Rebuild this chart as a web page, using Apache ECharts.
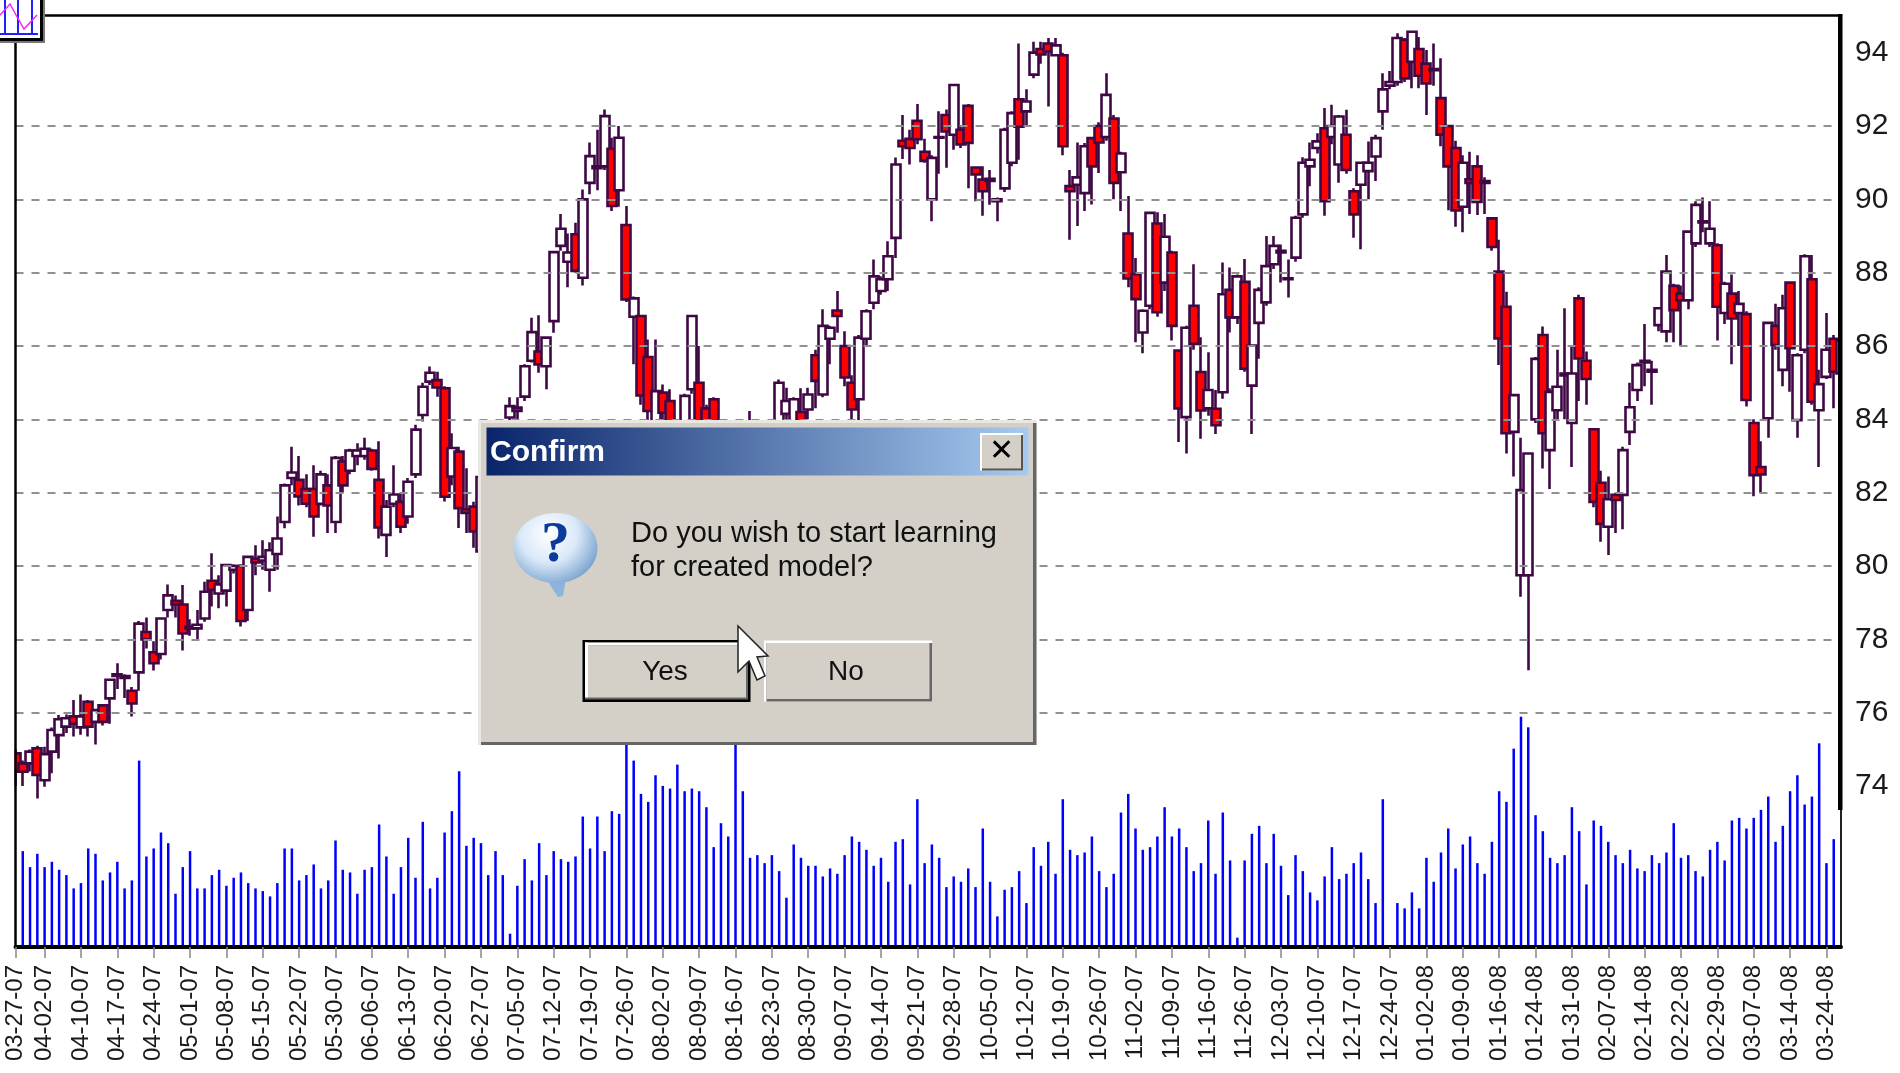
<!DOCTYPE html>
<html><head><meta charset="utf-8"><title>Chart</title>
<style>html,body{margin:0;padding:0;background:#fff}#c{width:1900px;height:1073px}</style>
<script src="https://cdn.jsdelivr.net/npm/echarts@6/dist/echarts.min.js"></script>
</head><body><div id="c"></div>
<script>
const tickLabels = ['03-27-07','04-02-07','04-10-07','04-17-07','04-24-07','05-01-07','05-08-07','05-15-07','05-22-07','05-30-07','06-06-07','06-13-07','06-20-07','06-27-07','07-05-07','07-12-07','07-19-07','07-26-07','08-02-07','08-09-07','08-16-07','08-23-07','08-30-07','09-07-07','09-14-07','09-21-07','09-28-07','10-05-07','10-12-07','10-19-07','10-26-07','11-02-07','11-09-07','11-16-07','11-26-07','12-03-07','12-10-07','12-17-07','12-24-07','01-02-08','01-09-08','01-16-08','01-24-08','01-31-08','02-07-08','02-14-08','02-22-08','02-29-08','03-07-08','03-14-08','03-24-08'];
const priceTicks = [74,76,78,80,82,84,86,88,90,92,94];
const opens = [
74.89,74.62,74.62,75.03,74.16,74.94,75.39,75.62,75.9,75.6,
76.3,75.75,76.2,76.39,77.05,77.0,76.6,77.1,78.2,77.65,
77.6,78.8,79.05,78.95,78.35,78.3,78.57,79.6,79.25,79.33,
79.9,80.0,78.8,80.2,80.15,79.9,80.33,81.2,82.4,82.35,
82.1,82.1,81.7,82.2,81.2,82.85,82.6,83.0,83.0,83.15,
82.35,80.85,81.7,81.75,81.35,82.5,84.12,85.03,85.07,84.85,
82.44,83.12,81.55,81.62,80.4,80.9,81.9,82.7,84.05,84.32,
84.62,85.6,85.85,85.45,86.68,88.73,88.3,89.05,87.86,90.45,
90.9,90.9,91.38,90.25,89.3,86.8,86.82,85.7,83.6,84.73,
84.5,83.9,83.4,84.82,85.0,84.3,84.55,83.5,83.0,82.5,
83.2,83.4,83.8,83.3,83.5,83.3,84.15,83.7,84.2,84.27,
85.75,84.68,86.2,86.97,86.0,85.0,84.55,86.2,87.18,87.5,
87.82,88.95,91.6,91.65,92.14,91.3,90.0,91.7,92.3,91.76,
91.9,92.55,90.87,90.54,90.56,89.95,90.3,91.0,92.73,92.4,
93.4,94.1,94.25,93.93,93.93,90.36,90.4,90.17,91.67,92.0,
91.7,92.2,90.74,89.07,87.96,86.37,87.1,89.34,87.73,88.55,
85.88,84.06,87.1,85.29,84.3,84.29,84.74,87.53,86.78,87.75,
84.92,86.63,87.19,88.23,88.6,87.82,88.41,89.59,90.9,91.4,
91.94,91.7,90.95,91.76,90.22,90.4,90.77,91.17,92.4,93.1,
93.2,94.35,93.75,94.1,93.7,93.55,92.76,92.0,91.4,89.8,
90.55,90.9,90.5,89.48,88.03,87.07,83.66,79.75,79.75,84.0,
86.3,83.16,84.25,85.2,83.9,87.3,85.6,83.73,82.27,81.07,
81.94,81.94,83.66,84.8,85.55,85.35,86.57,86.4,87.64,87.43,
87.25,88.8,89.4,88.8,88.75,86.9,87.43,86.9,86.87,83.9,
82.7,84.03,86.55,85.35,87.73,83.98,85.9,87.82,84.25,85.16,86.2,85.25];
const closes = [
74.39,74.39,74.94,74.3,74.87,75.53,75.82,75.85,75.7,75.9,
75.62,76.07,75.75,76.9,77.0,76.95,76.25,78.43,78.0,77.35,
78.57,79.2,78.95,78.16,78.3,78.4,79.3,79.35,79.5,80.03,
80.0,78.5,80.25,80.1,80.25,80.43,80.75,82.2,82.55,81.9,
81.7,81.35,82.5,81.65,82.95,82.2,83.15,83.15,83.2,82.65,
81.05,81.62,81.95,81.07,82.3,83.72,84.89,85.27,84.87,81.89,
83.22,81.58,81.45,80.94,82.43,81.9,82.8,83.6,84.36,84.23,
85.45,86.38,85.5,86.23,88.56,89.2,88.55,88.05,90.0,91.18,
90.85,92.27,89.82,91.68,87.27,87.3,84.65,84.23,84.77,84.18,
83.9,83.4,84.64,86.82,83.6,83.7,83.5,82.9,82.6,83.3,
83.6,83.9,83.4,83.7,83.9,85.0,84.5,84.55,83.8,84.68,
85.05,86.55,86.5,86.82,85.14,84.27,86.23,86.95,87.9,87.82,
88.45,90.95,91.45,91.4,91.64,91.05,91.13,91.68,91.85,93.12,
91.5,91.54,90.68,90.22,90.5,90.0,91.9,92.35,91.98,92.67,
94.0,93.95,94.03,94.2,91.45,90.22,90.6,91.45,90.9,91.55,
92.85,90.45,91.25,87.84,87.28,86.96,89.63,86.92,88.98,86.55,
84.3,86.5,86.06,84.24,84.8,83.84,87.41,86.78,87.9,85.38,
86.01,87.53,88.18,88.73,88.55,87.85,89.5,91.0,91.08,91.58,
89.95,92.0,92.26,90.8,89.59,91.0,91.0,91.67,93.0,93.2,
94.4,93.3,94.57,93.37,93.16,93.52,91.76,90.9,89.7,91.0,
90.45,89.93,90.45,88.7,86.21,83.62,84.66,82.07,83.07,85.65,
83.62,84.75,84.89,85.25,85.25,85.66,85.1,81.75,81.15,81.82,
81.8,83.16,84.33,85.48,85.6,85.3,87.03,88.03,86.98,87.25,
89.12,89.85,89.37,89.2,87.07,87.7,86.75,87.15,84.53,82.48,
82.5,86.63,86.03,87.03,85.94,85.75,88.45,84.48,84.96,85.9,85.3,86.15];
const lows = [
74.0,74.0,74.4,73.66,73.98,74.35,74.75,75.45,75.35,75.4,
75.35,75.13,75.65,75.7,76.65,76.4,75.9,76.6,77.75,77.15,
77.45,78.6,78.6,77.7,78.1,78.0,78.48,78.9,78.85,78.9,
79.8,78.35,78.5,79.75,79.9,79.3,79.9,81.03,82.2,81.65,
81.6,80.8,81.65,80.9,80.9,82.0,82.5,82.75,82.9,82.6,
80.75,80.25,81.6,80.9,81.15,82.4,83.94,84.94,84.62,81.76,
82.2,81.04,80.9,80.5,80.3,80.6,81.6,82.5,83.9,83.95,
84.5,85.55,85.27,84.82,86.36,88.6,87.6,88.0,87.65,90.14,
90.25,90.8,89.68,89.8,87.2,85.5,84.4,83.8,83.4,83.7,
83.5,83.2,83.2,84.7,83.3,83.3,83.2,82.6,82.3,82.3,
83.0,83.2,83.2,83.1,83.3,83.1,83.7,83.5,83.6,84.0,
84.3,84.6,85.5,86.36,84.9,83.9,83.8,86.0,87.0,87.4,
87.5,88.4,91.1,90.95,91.5,91.0,89.4,90.7,90.86,91.35,
91.4,90.3,89.95,89.55,89.85,89.4,90.2,90.9,91.08,92.0,
93.3,93.7,92.53,93.9,91.2,88.9,89.27,89.68,89.86,90.72,
91.6,90.0,89.68,87.6,86.1,85.8,87.0,86.8,87.5,86.15,
83.38,83.07,85.9,83.47,84.1,83.6,84.56,86.37,86.6,85.3,
83.6,85.65,87.1,88.1,87.73,87.32,88.3,89.5,90.36,91.25,
89.55,91.5,90.45,90.7,88.95,88.64,90.0,90.5,91.9,93.0,
93.1,93.2,93.03,93.03,92.3,93.1,91.45,89.7,89.25,89.1,
89.6,89.57,89.6,88.6,85.48,83.07,82.44,79.16,77.16,83.9,
82.66,82.1,84.0,84.0,82.7,84.5,84.4,81.6,80.66,80.3,
80.9,81.0,83.3,84.5,84.9,84.4,86.4,86.1,86.1,86.0,
87.0,88.7,89.1,88.7,86.15,86.6,85.5,86.0,84.35,81.9,
82.0,83.5,85.9,84.9,84.75,83.5,85.8,84.4,82.7,85.1,84.3,84.9];
const highs = [
75.0,74.7,75.0,75.1,75.07,75.6,75.94,75.95,76.35,76.5,
76.35,76.1,76.2,76.92,77.35,77.05,76.7,78.5,78.6,77.95,
78.6,79.5,79.2,79.48,78.55,78.8,79.57,80.35,79.75,80.05,
80.05,80.05,80.27,80.57,80.7,80.65,81.35,82.25,83.25,83.0,
82.5,82.75,82.6,82.5,83.0,83.0,83.2,83.35,83.5,83.2,
83.4,81.8,82.75,82.0,82.4,83.85,85.0,85.44,85.3,84.9,
83.62,83.25,82.67,81.75,82.45,82.2,83.0,83.8,84.6,84.6,
85.5,86.77,86.84,86.25,88.6,89.6,89.07,89.36,90.27,91.55,
91.9,92.45,91.68,92.0,89.82,87.35,86.85,86.18,86.18,84.95,
84.82,83.95,84.7,86.85,86.0,84.4,84.6,83.7,83.2,83.5,
83.8,84.23,83.95,83.9,83.95,85.09,84.86,84.6,84.85,84.86,
85.9,87.0,86.55,87.5,86.4,85.2,86.3,87.0,88.36,87.9,
88.86,91.14,92.3,91.9,92.6,91.65,91.2,92.4,92.45,93.15,
92.0,92.6,90.9,90.9,90.8,90.05,91.95,92.4,94.25,93.0,
94.3,94.3,94.4,94.4,94.0,90.8,91.55,91.54,91.7,92.1,
93.44,92.3,91.3,90.09,88.4,87.0,89.65,89.65,89.6,88.6,
85.9,86.55,88.23,86.24,85.83,84.8,88.28,88.14,87.95,88.37,
86.05,87.6,89.0,89.0,88.77,88.36,89.55,91.15,91.55,91.8,
92.49,92.58,92.3,92.44,90.3,91.0,91.58,91.76,93.44,93.5,
94.53,94.4,94.6,94.43,94.07,94.25,93.85,92.0,91.6,91.2,
91.3,91.2,90.6,89.5,88.9,87.48,84.7,83.5,83.1,85.7,
86.53,84.85,85.9,87.03,86.0,87.4,85.85,83.75,82.6,82.44,
82.0,83.25,85.0,85.55,86.6,85.6,87.05,88.48,87.7,87.65,
89.15,89.95,90.05,89.95,88.8,87.75,87.95,87.5,86.95,84.0,
83.4,86.65,87.15,87.4,87.75,85.8,88.5,88.48,85.35,86.9,86.3,86.2];
const volumes = [
0,36,30,35,30,32,29,27,22,24,
37,35,25,28,32,22,25,70,34,37,
43,39,20,30,36,22,22,27,29,23,
26,28,24,22,21,19,24,37,37,25,
27,31,22,25,40,29,28,20,29,30,
46,34,20,30,41,26,47,22,26,43,
51,66,38,41,39,27,36,27,5,23,
33,25,39,27,36,33,32,34,49,37,
49,36,51,50,80,70,57.5,54.5,64.5,60.5,
59.5,68.5,58.5,59.5,58.5,52.5,37.5,46.5,41.5,80,
58.5,33.5,34.5,31.5,34.5,28.5,18.5,38.5,33.5,30.5,
30.5,26.5,29.5,27.5,34.5,41.5,39.5,36.5,30.5,33.5,
24.5,39.5,40.5,23.5,55.5,31.5,38.5,33.5,22.5,26.5,
24.5,29.5,22.5,44.5,24.5,11.5,21.5,22.5,28.5,16.5,
37.5,30.5,39.5,27.5,55.5,36.5,34.5,35.5,41.5,28.5,
22.5,27.5,50.5,57.5,44.5,36.5,37.5,41.5,52.5,41.5,
44.5,37.5,28.5,31.5,47.5,27.5,50.5,32.5,3.5,32.5,
42.5,45.5,31.5,42.5,30.5,19.5,34.5,28.5,20.5,17.5,
26.5,37.5,25.5,27.5,31.5,35.5,25.5,16.5,55.5,0,
16.5,14.5,20.5,14.5,33.5,24.5,35.5,44.5,29.5,38.5,
41.5,31.5,27.5,39.5,58.5,54.5,74.5,86.5,82.5,49.5,
43.5,33.5,31.5,34.5,52.5,43.5,23.5,47.5,45.5,39.5,
34.5,31.5,36.5,29.5,28.5,34.5,31.5,35.5,46.5,33.5,
34.5,28.5,26.5,36.5,39.5,32.5,47.5,48.5,44.5,48.5,
51.5,56.5,39.5,45.5,58.5,64.5,53.5,56.5,76.5,31.5,40.5,0];

const categories = opens.map(function (_, i) {
  if (i === 0) return tickLabels[0];
  return (i + 1) % 5 === 0 ? (tickLabels[(i + 1) / 5] || '') : '';
});
const isLabelled = function (i, v) { return v !== ''; };
const candleData = opens.map(function (o, i) { return [o, closes[i], lows[i], highs[i]]; });
const halfTicks = [];
for (let v = 73.5; v <= 95; v += 0.5) if (v % 2 !== 0) halfTicks.push(v);

const FONT = '"Liberation Sans", Arial, sans-serif';
const g = [];
// masks that trim the two edge candles at the frame; they sit under the axes
g.push({ type: 'rect', z: 4, shape: { x: 0, y: 44, width: 14.5, height: 900 }, style: { fill: '#fff' } });
g.push({ type: 'rect', z: 4, shape: { x: 1842, y: 15, width: 14, height: 930 }, style: { fill: '#fff' } });
let zc = 100;
function rect(x, y, w, h, fill) { g.push({ type: 'rect', z: zc++, shape: { x: x, y: y, width: w, height: h }, style: { fill: fill } }); }
function text(t, x, y, size, fill, weight, align, family) {
  g.push({ type: 'text', z: zc++, style: { text: t, x: x, y: y, fontSize: size, fontWeight: weight || 'normal', fontFamily: family || FONT, fill: fill, textAlign: align || 'left', textVerticalAlign: 'middle' } });
}
function poly(points, fill, stroke, lw) { g.push({ type: 'polygon', z: zc++, shape: { points: points }, style: { fill: fill, stroke: stroke, lineWidth: lw || 0 } }); }
function pline(points, stroke, lw) { g.push({ type: 'polyline', z: zc++, shape: { points: points }, style: { fill: 'none', stroke: stroke, lineWidth: lw } }); }

// right-hand heavy frame segment of the price pane
rect(1838, 14, 4.5, 796, '#000');

// small window icon, top-left
rect(0, 0, 45, 43, '#777');
rect(0, 0, 43, 41, '#000');
rect(0, 0, 40, 38, '#fff');
pline([[5, 0], [5, 34]], '#2020ff', 2);
pline([[18, 0], [18, 34]], '#2020ff', 2);
pline([[32, 0], [32, 34]], '#2020ff', 2);
pline([[0, 34], [38, 34]], '#2020ff', 2);
pline([[0, 15], [10, 4], [16, 15], [24, 29], [37, 15]], '#ff20ff', 1.5);

// dialog
rect(478, 420, 558.5, 325, '#e9e7e1');
rect(481, 423, 555.5, 322, '#666');
rect(481, 423, 552, 319, '#d4d0c8');
g.push({ type: 'rect', z: zc++, shape: { x: 486.5, y: 427.5, width: 542, height: 48 }, style: { fill: { type: 'linear', x: 0, y: 0, x2: 1, y2: 0, colorStops: [{ offset: 0, color: '#0a246a' }, { offset: 1, color: '#a6caf0' }] } } });
text('Confirm', 490, 453, 30, '#fff', 'bold');
rect(980, 433, 43, 37.5, '#fff');
rect(982, 435, 41, 35.5, '#555');
rect(982, 435, 39, 33.5, '#d4d0c8');
text('✕', 1001.5, 452, 30, '#000', 'bold', 'center', '"DejaVu Sans"');
// icon bubble
poly([[540, 570], [566, 578], [563, 596], [558, 597]], '#8db4dc');
g.push({ type: 'ellipse', z: zc++, shape: { cx: 555.5, cy: 548, rx: 42, ry: 35 }, style: { fill: { type: 'radial', x: 0.42, y: 0.3, r: 0.75, colorStops: [{ offset: 0, color: '#ffffff' }, { offset: 0.55, color: '#d9e8f8' }, { offset: 1, color: '#7fa6d0' }] } } });
text('?', 555.5, 546, 58, '#0a3a9a', 'bold', 'center', '"Liberation Serif", serif');
// message
text('Do you wish to start learning', 631, 534, 29, '#111');
text('for created model?', 631, 568, 29, '#111');
// Yes button
rect(582.5, 640, 168, 62, '#000');
rect(585, 642.5, 163, 57, '#666');
rect(585, 642.5, 161, 3, '#fff');
rect(585, 642.5, 3, 55, '#fff');
rect(588, 645.5, 158, 52, '#d4d0c8');
text('Yes', 665, 672, 28, '#111', 'normal', 'center');
// No button
rect(764, 640.5, 168, 61, '#fff');
rect(766.5, 643, 165.5, 58.5, '#666');
rect(766.5, 643, 163, 56, '#d4d0c8');
text('No', 846, 672, 28, '#111', 'normal', 'center');
// pointer
poly([[738, 626], [768, 656], [757, 657], [765, 676], [757, 680], [749, 661], [738, 672]], '#fff', '#222', 1.5);

const option = {
  animation: false,
  backgroundColor: '#fff',
  grid: [
    { left: 15.5, top: 16, width: 1825.5, height: 843.4 },
    { left: 15.5, top: 15, width: 1825.5, height: 932 }
  ],
  xAxis: [
    { type: 'category', gridIndex: 0, data: categories, boundaryGap: false, show: false },
    { type: 'category', gridIndex: 1, data: categories, boundaryGap: false, position: 'bottom', z: 6,
      axisLine: { onZero: false, lineStyle: { color: '#000', width: 4 } },
      axisTick: { interval: isLabelled, length: 11, lineStyle: { color: '#888', width: 1.5 } },
      axisLabel: { interval: isLabelled, rotate: 90, margin: 18, padding: [5, 0, 0, 0], color: '#1a1a1a', fontSize: 24, fontFamily: FONT, hideOverlap: false, showMinLabel: true, showMaxLabel: true } },
    { type: 'category', gridIndex: 1, data: categories, boundaryGap: false, position: 'top', z: 6,
      axisLine: { onZero: false, lineStyle: { color: '#000', width: 2.5 } }, axisTick: { show: false }, axisLabel: { show: false } }
  ],
  yAxis: [
    { type: 'value', gridIndex: 0, position: 'right', min: 72, max: 95, interval: 2, z: 6,
      axisLine: { show: false },
      axisTick: { length: 12, customValues: priceTicks, lineStyle: { color: '#999', width: 2 } },
      axisLabel: { customValues: priceTicks, margin: 14, padding: [3, 0, 0, 0], color: '#1a1a1a', fontSize: 30, fontFamily: FONT },
      splitLine: { show: true, showMinLine: false, showMaxLine: false, lineStyle: { color: '#909090', width: 2, type: [8, 8] } } },
    { type: 'value', gridIndex: 0, position: 'right', min: 72, max: 95, interval: 2, z: 6,
      axisLine: { show: false }, splitLine: { show: false }, axisLabel: { show: false },
      axisTick: { length: 6.5, customValues: halfTicks, lineStyle: { color: '#999', width: 2 } } },
    { type: 'value', gridIndex: 1, position: 'left', min: 0, max: 350, z: 6,
      axisLine: { show: true, onZero: false, lineStyle: { color: '#000', width: 2.5 } },
      axisTick: { show: false }, axisLabel: { show: false }, splitLine: { show: false } },
    { type: 'value', gridIndex: 1, position: 'right', min: 0, max: 350, z: 6,
      axisLine: { show: true, onZero: false, lineStyle: { color: '#222', width: 2 } },
      axisTick: { show: false }, axisLabel: { show: false }, splitLine: { show: false } }
  ],
  series: [
    { name: 'Price', type: 'candlestick', xAxisIndex: 0, yAxisIndex: 0, data: candleData, barWidth: 9.5, z: 2, progressive: 0,
      itemStyle: { color: '#ffffff', color0: '#ff0000', borderColor: '#3f0845', borderColor0: '#3f0845', borderWidth: 2.6 } },
    { name: 'Volume', type: 'bar', xAxisIndex: 1, yAxisIndex: 2, data: volumes, barWidth: 2.5, z: 3, itemStyle: { color: '#0000ff' } }
  ],
  graphic: { elements: g }
};
const chart = echarts.init(document.getElementById('c'), null, { renderer: 'canvas', width: 1900, height: 1073 });
chart.setOption(option);
</script></body></html>
